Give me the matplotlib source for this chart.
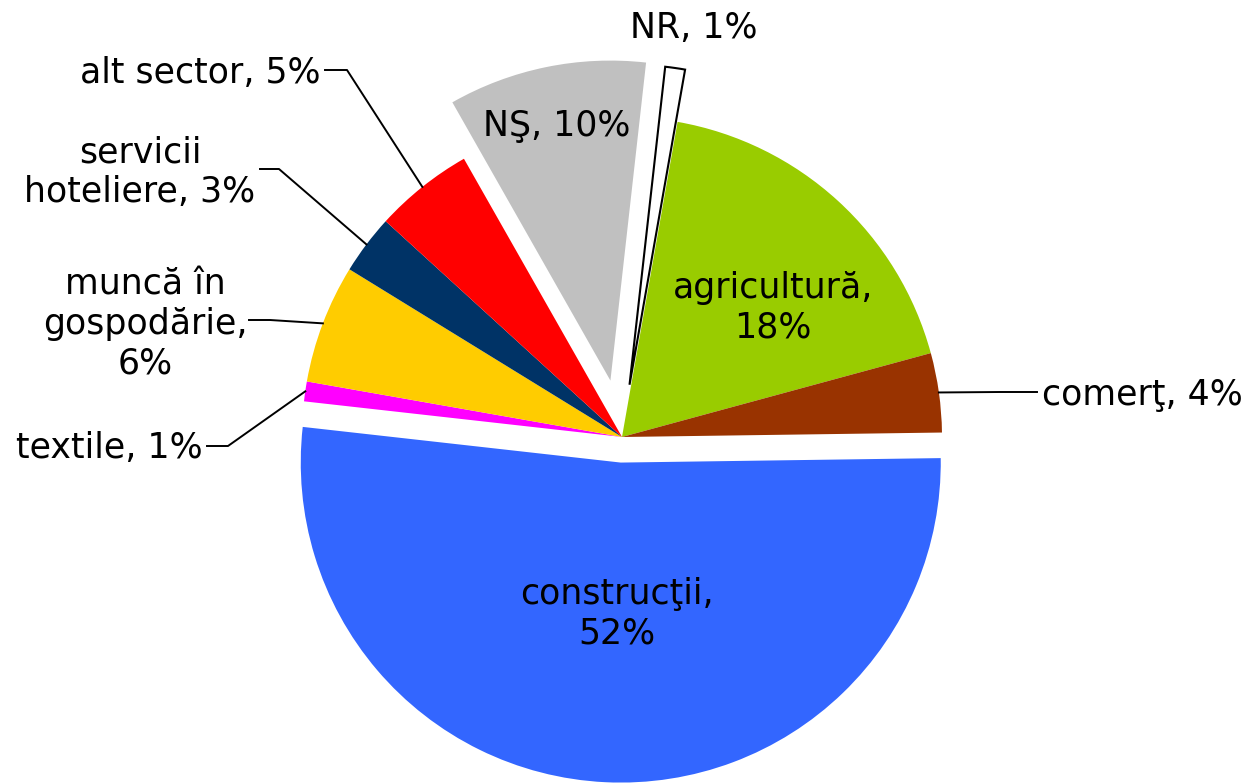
import numpy as np
import matplotlib
matplotlib.use('Agg')
import matplotlib.pyplot as plt

# slices, clockwise from the top
labels = ['agricultură', 'comerţ', 'construcţii', 'textile', 'muncă în gospodărie',
          'servicii hoteliere', 'alt sector', 'NŞ', 'NR']
values = [18, 4, 52, 1, 6, 3, 5, 10, 1]
colors = ['#99CC00', '#993300', '#3366FF', '#FF00FF', '#FFCC00',
          '#003366', '#FF0000', '#C0C0C0', '#FFFFFF']
explode = [0, 0, 0.08, 0, 0, 0, 0, 0.18, 0.165]

W, H = 1247, 783
CX, CY, R = 622, 437, 320   # pie centre and radius in pixels


def px(x, y):
    """pixel (from top-left) -> data coords, radius = 1"""
    return (x - CX) / R, (CY - y) / R


plt.rcParams['font.family'] = ['DejaVu Sans']
fig = plt.figure(figsize=(W / 100, H / 100), dpi=100)
ax = fig.add_axes([0, 0, 1, 1])

wedges, _ = ax.pie(values, colors=colors, explode=explode, startangle=80,
                   counterclock=False, radius=1, center=(0, 0),
                   wedgeprops=dict(linewidth=0))
wedges[-1].set_edgecolor('black')
wedges[-1].set_linewidth(1.5)

ax.set_xlim(-CX / R, (W - CX) / R)
ax.set_ylim(-(H - CY) / R, CY / R)
ax.set_aspect('equal')
ax.axis('off')

fs = 25

# labels inside the slices
ax.text(*px(557, 126), 'NŞ, 10%', ha='center', va='center', fontsize=fs)
ax.text(*px(773, 308), 'agricultură,\n18%', ha='center', va='center', fontsize=fs)
ax.text(*px(617, 614), 'construcţii,\n52%', ha='center', va='center', fontsize=fs)
ax.text(*px(694, 28), 'NR, 1%', ha='center', va='center', fontsize=fs)


def anchor(w):
    mid = np.deg2rad((w.theta1 + w.theta2) / 2)
    cx, cy = w.center
    return cx + w.r * np.cos(mid), cy + w.r * np.sin(mid)


def leader(i, elbow, end):
    a = anchor(wedges[i])
    e = px(*elbow)
    t = px(*end)
    ax.plot([a[0], e[0], t[0]], [a[1], e[1], t[1]], color='black', lw=1.4)


# outside labels with leader lines
leader(1, (1000, 392), (1037, 392))
ax.text(*px(1042, 395), 'comerţ, 4%', ha='left', va='center', fontsize=fs)

leader(3, (228, 446), (207, 446))
ax.text(*px(203, 448), 'textile, 1%', ha='right', va='center', fontsize=fs)

leader(4, (270, 320), (249, 320))
ax.text(*px(145, 324), 'muncă în\ngospodărie,\n6%', ha='center', va='center',
        fontsize=fs, multialignment='center')

leader(5, (279, 169), (260, 169))
ax.text(*px(140, 172), 'servicii\nhoteliere, 3%', ha='center', va='center',
        fontsize=fs, multialignment='center')

leader(6, (347, 70), (325, 70))
ax.text(*px(320, 73), 'alt sector, 5%', ha='right', va='center', fontsize=fs)

fig.savefig('out.png', dpi=100)
